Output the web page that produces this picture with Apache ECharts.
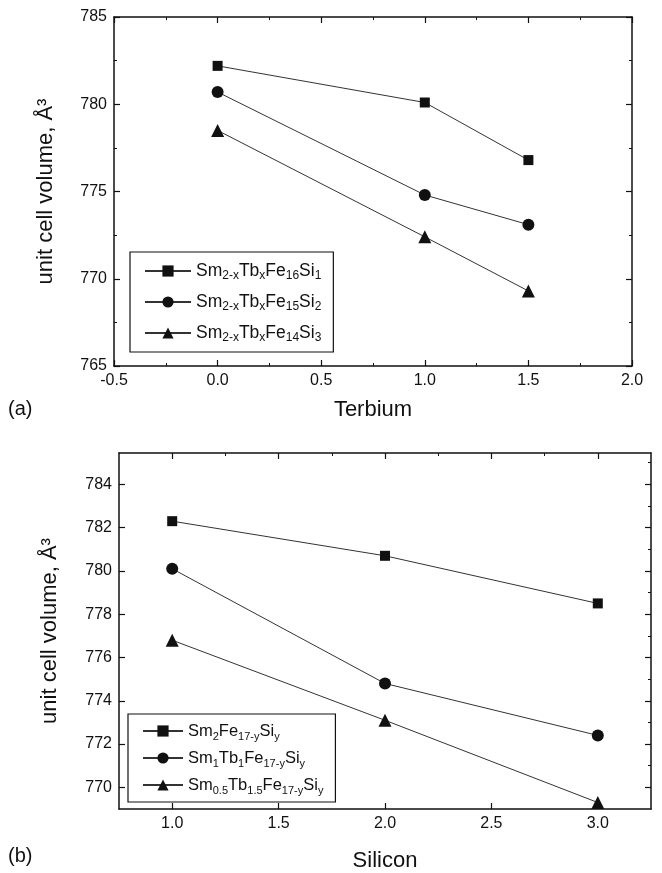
<!DOCTYPE html>
<html>
<head>
<meta charset="utf-8">
<script src="https://cdn.jsdelivr.net/npm/echarts@6/dist/echarts.min.js"></script>
<style>
  html, body { margin: 0; padding: 0; background: #fff; }
  #chart { width: 662px; height: 873px; }
</style>
</head>
<body>
<div id="chart"></div>
<script>
// (a) 테르븀 함량
const terbiumX = [0, 1, 1.5];
const volA1 = [782.2, 780.1, 776.8];
const volA2 = [780.7, 774.8, 773.1];
const volA3 = [778.5, 772.4, 769.3];
const namesA = ["Sm2-xTbxFe16Si1", "Sm2-xTbxFe15Si2", "Sm2-xTbxFe14Si3"];
const labelsA = [
  "Sm{s|2-x}Tb{s|x}Fe{s|16}Si{s|1}",
  "Sm{s|2-x}Tb{s|x}Fe{s|15}Si{s|2}",
  "Sm{s|2-x}Tb{s|x}Fe{s|14}Si{s|3}",
];

// (b) 실리콘 함량
const siliconX = [1, 2, 3];
const volB1 = [782.3, 780.7, 778.5];
const volB2 = [780.1, 774.8, 772.4];
const volB3 = [776.8, 773.1, 769.3];
const namesB = ["Sm2Fe17-ySiy", "Sm1Tb1Fe17-ySiy", "Sm0.5Tb1.5Fe17-ySiy"];
const labelsB = [
  "Sm{s|2}Fe{s|17-y}Si{s|y}",
  "Sm{s|1}Tb{s|1}Fe{s|17-y}Si{s|y}",
  "Sm{s|0.5}Tb{s|1.5}Fe{s|17-y}Si{s|y}",
];
const ticksBX = [1, 1.5, 2, 2.5, 3];
const minorBX = [1.25, 1.75, 2.25, 2.75];
const ticksBY = [770, 772, 774, 776, 778, 780, 782, 784];
const minorBY = [771, 773, 775, 777, 779, 781, 783, 785];

const symbols = ["rect", "circle", "triangle"];
const symbolSizes = [10, 12, 13];

const FONT = "Liberation Sans";
const INK = "#111";

function legendLabel(names, labels) {
  return function (name) {
    return labels[names.indexOf(name)];
  };
}

function axisBase(extra) {
  return Object.assign({
    type: "value",
    axisLine: { onZero: false, lineStyle: { color: INK, width: 1.5 } },
    axisTick: { inside: true, length: 6, lineStyle: { color: INK, width: 1.2 } },
    axisLabel: { color: INK, fontFamily: FONT, fontSize: 16, margin: 7 },
    splitLine: { show: false },
  }, extra);
}

function makeSeries(name, xs, ys, i, axisIdx) {
  return {
    name: name,
    type: "line",
    xAxisIndex: axisIdx,
    yAxisIndex: axisIdx,
    data: xs.map((x, k) => [x, ys[k]]),
    symbol: symbols[i],
    symbolSize: symbolSizes[i],
    itemStyle: { color: INK },
    lineStyle: { color: "#333", width: 1 },
  };
}

function legendText(size, sub) {
  return {
    color: INK,
    fontFamily: FONT,
    fontSize: size,
    lineHeight: 22,
    rich: {
      s: { fontSize: sub, lineHeight: 12, verticalAlign: "bottom", fontFamily: FONT, color: INK },
    },
  };
}

const chart = echarts.init(document.getElementById("chart"));

const legendStyle = {
  orient: "vertical",
  backgroundColor: "#fff",
  borderColor: INK,
  borderWidth: 1.2,
  borderRadius: 0,
  itemHeight: 14,
};

const option = {
  animation: false,
  grid: [
    { left: 114, top: 17, width: 518, height: 349 },
    { left: 119, top: 453, width: 532, height: 356 },
  ],
  xAxis: [
    axisBase({
      gridIndex: 0, min: -0.5, max: 2, interval: 0.5,
      minorTick: { show: true, splitNumber: 2, length: 3, lineStyle: { color: INK } },
      axisLabel: { color: INK, fontFamily: FONT, fontSize: 16, margin: 7, formatter: (v) => v.toFixed(1) },
      name: "Terbium", nameLocation: "middle", nameGap: 33,
      nameTextStyle: { color: INK, fontFamily: FONT, fontSize: 22 },
    }),
    axisBase({
      gridIndex: 0, position: "top", min: -0.5, max: 2, interval: 0.5,
      minorTick: { show: true, splitNumber: 2, length: 3, lineStyle: { color: INK } },
      axisLabel: { show: false },
    }),
    axisBase({
      gridIndex: 1, min: 0.75, max: 3.25,
      axisTick: { inside: true, length: 6, customValues: ticksBX, lineStyle: { color: INK, width: 1.2 } },
      axisLabel: { color: INK, fontFamily: FONT, fontSize: 16, margin: 7, customValues: ticksBX, formatter: (v) => v.toFixed(1) },
      name: "Silicon", nameLocation: "middle", nameGap: 41,
      nameTextStyle: { color: INK, fontFamily: FONT, fontSize: 22 },
    }),
    axisBase({
      gridIndex: 1, position: "top", min: 0.75, max: 3.25,
      axisTick: { inside: true, length: 6, customValues: ticksBX, lineStyle: { color: INK, width: 1.2 } },
      axisLabel: { show: false },
    }),
    axisBase({
      gridIndex: 1, min: 0.75, max: 3.25, axisLine: { show: false },
      axisTick: { inside: true, length: 3, customValues: minorBX, lineStyle: { color: INK } },
      axisLabel: { show: false },
    }),
    axisBase({
      gridIndex: 1, position: "top", min: 0.75, max: 3.25, axisLine: { show: false },
      axisTick: { inside: true, length: 3, customValues: minorBX, lineStyle: { color: INK } },
      axisLabel: { show: false },
    }),
  ],
  yAxis: [
    axisBase({
      gridIndex: 0, min: 765, max: 785, interval: 5,
      minorTick: { show: true, splitNumber: 2, length: 3, lineStyle: { color: INK } },
      name: "unit cell volume, Å³", nameLocation: "middle", nameGap: 57,
      nameTextStyle: { color: INK, fontFamily: FONT, fontSize: 22 },
    }),
    axisBase({
      gridIndex: 0, position: "right", min: 765, max: 785, interval: 5,
      minorTick: { show: true, splitNumber: 2, length: 3, lineStyle: { color: INK } },
      axisLabel: { show: false },
    }),
    axisBase({
      gridIndex: 1, min: 769, max: 785.45,
      axisTick: { inside: true, length: 6, customValues: ticksBY, lineStyle: { color: INK, width: 1.2 } },
      axisLabel: { color: INK, fontFamily: FONT, fontSize: 16, margin: 7, customValues: ticksBY },
      name: "unit cell volume, Å³", nameLocation: "middle", nameGap: 58,
      nameTextStyle: { color: INK, fontFamily: FONT, fontSize: 22 },
    }),
    axisBase({
      gridIndex: 1, position: "right", min: 769, max: 785.45,
      axisTick: { inside: true, length: 6, customValues: ticksBY, lineStyle: { color: INK, width: 1.2 } },
      axisLabel: { show: false },
    }),
    axisBase({
      gridIndex: 1, min: 769, max: 785.45, axisLine: { show: false },
      axisTick: { inside: true, length: 3, customValues: minorBY, lineStyle: { color: INK } },
      axisLabel: { show: false },
    }),
    axisBase({
      gridIndex: 1, position: "right", min: 769, max: 785.45, axisLine: { show: false },
      axisTick: { inside: true, length: 3, customValues: minorBY, lineStyle: { color: INK } },
      axisLabel: { show: false },
    }),
  ],
  legend: [
    Object.assign({}, legendStyle, {
      left: 130, top: 252, itemGap: 9, itemWidth: 46, padding: [8, 12, 8, 14],
      textStyle: legendText(17.5, 12),
      data: namesA, formatter: legendLabel(namesA, labelsA),
    }),
    Object.assign({}, legendStyle, {
      left: 128, top: 714, itemGap: 5, itemWidth: 40, padding: [6, 12, 6, 14],
      textStyle: legendText(16.5, 11),
      data: namesB, formatter: legendLabel(namesB, labelsB),
    }),
  ],
  graphic: [
    { type: "text", left: 8, top: 399, style: { text: "(a)", font: "20px " + FONT, fill: INK } },
    { type: "text", left: 8, top: 846, style: { text: "(b)", font: "20px " + FONT, fill: INK } },
  ],
  series: [
    makeSeries(namesA[0], terbiumX, volA1, 0, 0),
    makeSeries(namesA[1], terbiumX, volA2, 1, 0),
    makeSeries(namesA[2], terbiumX, volA3, 2, 0),
    makeSeries(namesB[0], siliconX, volB1, 0, 2),
    makeSeries(namesB[1], siliconX, volB2, 1, 2),
    makeSeries(namesB[2], siliconX, volB3, 2, 2),
  ],
};

chart.setOption(option);
</script>
</body>
</html>
